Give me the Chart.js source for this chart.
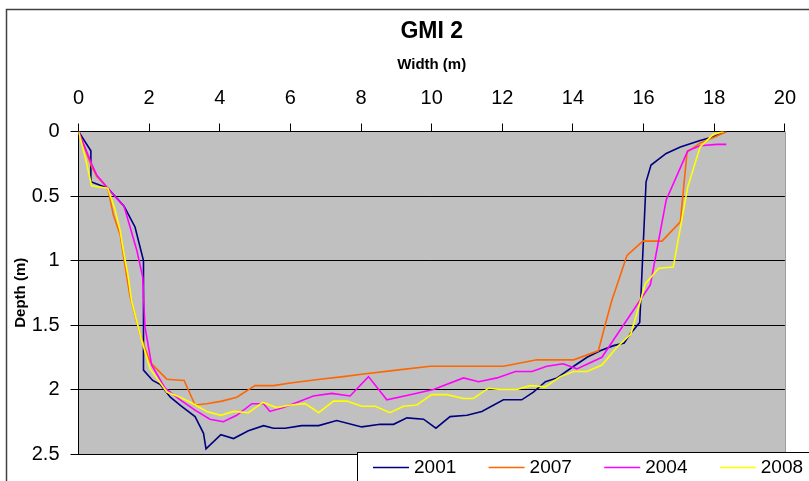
<!DOCTYPE html>
<html>
<head>
<meta charset="utf-8">
<script src="https://cdn.jsdelivr.net/npm/chart.js@4"></script>
<style>
html,body{margin:0;padding:0;background:#fff;}
#wrap{width:809px;height:481px;position:relative;}
</style>
</head>
<body>
<div id="wrap"><canvas id="c" width="809" height="481"></canvas></div>
<script>
const seriesLabels = ['2001', '2007', '2004', '2008'];
const seriesColors = ['#000080', '#FF6600', '#FF00FF', '#FFFF00'];

const x2001 = [0, 0.35, 0.35, 0.83, 1.29, 1.6, 1.84, 1.84, 2.1, 2.31, 2.6, 2.92, 3.3, 3.54, 3.61, 4.03, 4.39, 4.81, 5.24, 5.52, 5.85, 6.32, 6.8, 7.31, 8.02, 8.54, 8.92, 9.3, 9.77, 10.12, 10.52, 11.0, 11.42, 12.03, 12.55, 12.88, 13.22, 13.55, 14.02, 14.4, 14.77, 15.15, 15.45, 15.62, 15.89, 16.07, 16.21, 16.64, 17.04, 17.6, 17.98, 18.34];
const y2001 = [0, 0.15, 0.39, 0.44, 0.58, 0.74, 1.0, 1.85, 1.93, 1.96, 2.06, 2.13, 2.21, 2.34, 2.46, 2.35, 2.38, 2.32, 2.28, 2.30, 2.30, 2.28, 2.28, 2.24, 2.29, 2.27, 2.27, 2.22, 2.23, 2.30, 2.21, 2.20, 2.17, 2.08, 2.08, 2.02, 1.94, 1.91, 1.82, 1.75, 1.70, 1.66, 1.64, 1.57, 1.48, 0.39, 0.26, 0.17, 0.12, 0.07, 0.04, 0];

const x2007 = [0, 0.37, 0.52, 0.83, 0.99, 1.18, 1.37, 1.46, 1.74, 2.03, 2.5, 2.99, 3.3, 3.63, 4.06, 4.48, 5.0, 5.52, 6.0, 6.84, 7.5, 8.07, 9.01, 9.96, 11.18, 12.03, 12.98, 14.02, 14.72, 14.91, 15.1, 15.53, 15.98, 16.52, 17.04, 17.23, 17.6, 18.03, 18.34];
const y2007 = [0, 0.27, 0.35, 0.44, 0.65, 0.80, 1.13, 1.28, 1.57, 1.79, 1.92, 1.93, 2.12, 2.11, 2.09, 2.06, 1.97, 1.97, 1.95, 1.92, 1.90, 1.88, 1.85, 1.82, 1.82, 1.82, 1.77, 1.77, 1.70, 1.50, 1.31, 0.96, 0.85, 0.85, 0.70, 0.16, 0.09, 0.04, 0];

const x2004 = [0, 0.37, 0.52, 0.83, 1.29, 1.46, 1.65, 1.82, 1.88, 2.07, 2.45, 2.88, 3.3, 3.72, 4.1, 4.48, 4.91, 5.24, 5.42, 5.8, 6.18, 6.65, 7.17, 7.69, 8.21, 8.73, 9.39, 10.05, 10.9, 11.33, 11.85, 12.37, 12.84, 13.26, 13.72, 14.11, 14.82, 16.19, 16.64, 17.25, 17.6, 18.08, 18.34];
const y2004 = [0, 0.25, 0.34, 0.44, 0.58, 0.74, 0.92, 1.13, 1.51, 1.81, 1.99, 2.08, 2.16, 2.23, 2.25, 2.20, 2.11, 2.11, 2.17, 2.14, 2.10, 2.05, 2.03, 2.05, 1.90, 2.08, 2.04, 2.00, 1.91, 1.94, 1.91, 1.86, 1.86, 1.82, 1.80, 1.84, 1.75, 1.19, 0.53, 0.15, 0.11, 0.10, 0.10];

const x2008 = [0, 0.19, 0.37, 0.83, 1.03, 1.18, 1.27, 1.41, 1.5, 1.79, 2.03, 2.5, 2.88, 3.25, 3.63, 4.03, 4.39, 4.81, 5.22, 5.61, 6.0, 6.42, 6.8, 7.22, 7.6, 8.02, 8.4, 8.82, 9.2, 9.58, 10.0, 10.43, 10.9, 11.18, 11.61, 11.94, 12.41, 12.79, 13.22, 13.64, 14.02, 14.4, 14.82, 15.25, 15.64, 16.05, 16.43, 16.84, 17.25, 17.6, 17.98, 18.27];
const y2008 = [0, 0.20, 0.42, 0.44, 0.60, 0.77, 0.92, 1.13, 1.31, 1.62, 1.84, 2.02, 2.06, 2.11, 2.17, 2.20, 2.17, 2.18, 2.10, 2.14, 2.12, 2.11, 2.18, 2.09, 2.09, 2.13, 2.13, 2.18, 2.13, 2.12, 2.04, 2.04, 2.07, 2.07, 1.99, 2.00, 2.00, 1.97, 1.98, 1.90, 1.86, 1.86, 1.81, 1.67, 1.57, 1.18, 1.06, 1.05, 0.43, 0.12, 0.02, 0];

const xTicks = [0, 2, 4, 6, 8, 10, 12, 14, 16, 18, 20];
const yTicks = [0, 0.5, 1, 1.5, 2, 2.5];

const xs = [x2001, x2007, x2004, x2008];
const ys = [y2001, y2007, y2004, y2008];

const FONT = '"Liberation Sans", Arial, sans-serif';

const datasets = seriesLabels.map((lab, i) => ({
  label: lab,
  data: xs[i].map((x, j) => ({x: x, y: ys[i][j]})),
  borderColor: seriesColors[i],
  backgroundColor: seriesColors[i],
  borderWidth: 1.6,
  showLine: true,
  pointRadius: 0,
  fill: false,
  tension: 0,
  order: seriesLabels.length - i
}));

const framePlugin = {
  id: 'frame',
  beforeDraw(chart) {
    const ctx = chart.ctx;
    const a = chart.chartArea;
    ctx.save();
    ctx.fillStyle = '#ffffff';
    ctx.fillRect(0, 0, chart.width, chart.height);
    ctx.strokeStyle = '#404040';
    ctx.lineWidth = 1.5;
    ctx.strokeRect(6.5, 9.5, 900, 600);
    ctx.fillStyle = '#C0C0C0';
    ctx.fillRect(a.left, a.top, a.right - a.left, a.bottom - a.top);
    ctx.strokeStyle = '#909090';
    ctx.lineWidth = 1;
    ctx.beginPath();
    ctx.moveTo(a.right + 0.5, a.top);
    ctx.lineTo(a.right + 0.5, a.bottom);
    ctx.stroke();
    ctx.restore();
  }
};

const legendPlugin = {
  id: 'boxLegend',
  afterDraw(chart) {
    const ctx = chart.ctx;
    ctx.save();
    ctx.fillStyle = '#ffffff';
    ctx.fillRect(357, 452, 460, 40);
    ctx.strokeStyle = '#000000';
    ctx.lineWidth = 1;
    ctx.strokeRect(357.5, 452.5, 460, 40);
    ctx.font = '19px ' + FONT;
    ctx.textBaseline = 'middle';
    ctx.textAlign = 'left';
    chart.data.datasets.forEach((ds, i) => {
      const x0 = 373 + i * 115.6;
      ctx.strokeStyle = ds.borderColor;
      ctx.lineWidth = 1.6;
      ctx.beginPath();
      ctx.moveTo(x0, 467.5);
      ctx.lineTo(x0 + 36, 467.5);
      ctx.stroke();
      ctx.fillStyle = '#000000';
      ctx.fillText(ds.label, x0 + 41, 468);
    });
    ctx.restore();
  }
};

new Chart(document.getElementById('c'), {
  type: 'scatter',
  data: { datasets: datasets },
  plugins: [framePlugin, legendPlugin],
  options: {
    responsive: false,
    animation: false,
    layout: { padding: { left: 0, top: 0, right: 23.5, bottom: 27 } },
    plugins: {
      legend: { display: false },
      tooltip: { enabled: false },
      title: {
        display: true,
        fullSize: false,
        text: 'GMI 2',
        color: '#000',
        font: { family: FONT, size: 23, weight: 'bold', lineHeight: 1.2 },
        padding: { top: 18, bottom: 3 }
      }
    },
    scales: {
      x: {
        type: 'linear',
        position: 'top',
        min: 0,
        max: 20,
        afterBuildTicks(scale) { scale.ticks = xTicks.map(v => ({ value: v })); },
        afterFit(scale) { scale.height = 131.5 - 48.6; },
        ticks: {
          color: '#000',
          font: { family: FONT, size: 20 },
          padding: 13,
          maxRotation: 0,
          autoSkip: false
        },
        grid: {
          display: true,
          drawOnChartArea: false,
          drawTicks: true,
          tickLength: 8,
          color: '#000',
          lineWidth: 1
        },
        border: { display: true, color: '#000', width: 1 },
        title: {
          display: true,
          text: 'Width (m)',
          color: '#000',
          font: { family: FONT, size: 15, weight: 'bold', lineHeight: 1.2 },
          padding: { top: 7, bottom: 0 }
        }
      },
      y: {
        type: 'linear',
        reverse: true,
        min: 0,
        max: 2.5,
        afterBuildTicks(scale) { scale.ticks = yTicks.map(v => ({ value: v })); },
        afterFit(scale) { scale.width = 78.5; },
        ticks: {
          color: '#000',
          font: { family: FONT, size: 20 },
          padding: 11,
          autoSkip: false,
          callback: v => String(v)
        },
        grid: {
          display: true,
          drawOnChartArea: true,
          drawTicks: true,
          tickLength: 8,
          color: '#000',
          lineWidth: 1
        },
        border: { display: true, color: '#000', width: 1 },
        title: {
          display: true,
          text: 'Depth (m)',
          color: '#000',
          font: { family: FONT, size: 15, weight: 'bold', lineHeight: 1.2 },
          padding: { top: 12, bottom: 0 }
        }
      }
    }
  }
});
</script>
</body>
</html>
